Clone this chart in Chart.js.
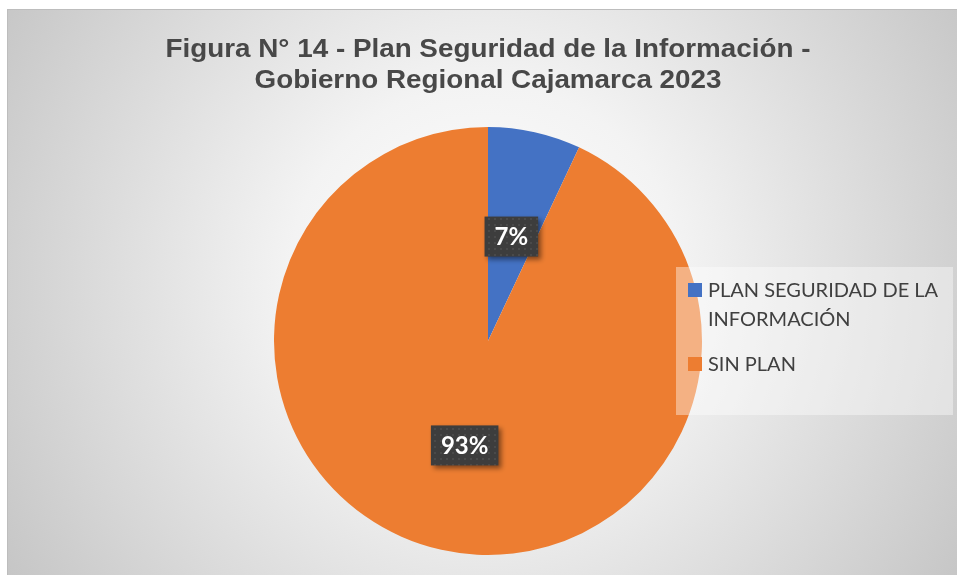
<!DOCTYPE html>
<html>
<head>
<meta charset="utf-8">
<script src="https://cdn.jsdelivr.net/npm/chart.js@4.4.0/dist/chart.umd.min.js"></script>
<style>
  body { margin: 0; background: #fff; }
  canvas { display: block; }
</style>
</head>
<body>
<canvas id="canvas" width="957" height="575"></canvas>
<script>
// datos
var categories = ['PLAN SEGURIDAD DE LA INFORMACIÓN', 'SIN PLAN'];
var legendLines = [['PLAN SEGURIDAD DE LA', 'INFORMACIÓN'], ['SIN PLAN']];
var percentages = [7, 93];
var sliceColors = ['#4472C4', '#ED7D31'];
var titleLines = ['Figura N° 14 - Plan Seguridad de la Información -', 'Gobierno Regional Cajamarca 2023'];

// fondo con degradado radial y marco
var background = {
  id: 'background',
  beforeDraw: function(chart){
    var ctx = chart.ctx;
    ctx.save();
    ctx.fillStyle = '#ffffff';
    ctx.fillRect(0, 0, chart.width, chart.height);
    var g = ctx.createRadialGradient(485, 280, 0, 485, 280, 560);
    g.addColorStop(0, '#ffffff');
    g.addColorStop(0.35, '#f3f3f3');
    g.addColorStop(1, '#c6c6c6');
    ctx.fillStyle = g;
    ctx.fillRect(7, 9, chart.width - 7, chart.height - 9);
    ctx.strokeStyle = '#bdbdbd';
    ctx.lineWidth = 1;
    ctx.strokeRect(7.5, 9.5, chart.width - 7, chart.height - 9);
    ctx.restore();
  }
};

// titulo: un poco ensanchado como en el original
var wideTitle = {
  id: 'wideTitle',
  afterDraw: function(chart){
    var ctx = chart.ctx;
    ctx.save();
    ctx.font = 'bold 26px "Liberation Sans"';
    ctx.fillStyle = '#484848';
    ctx.textAlign = 'center';
    ctx.textBaseline = 'alphabetic';
    var cx = 488;
    titleLines.forEach(function(t, i){
      ctx.save();
      ctx.translate(cx, 57 + i * 31);
      ctx.scale(1.07, 1);
      ctx.fillText(t, 0, 0);
      ctx.restore();
    });
    ctx.restore();
  }
};

// patron de puntos para las etiquetas
function dotPattern(ctx){
  var p = document.createElement('canvas');
  p.width = 6; p.height = 6;
  var pc = p.getContext('2d');
  pc.fillStyle = '#3d3d3d';
  pc.fillRect(0, 0, 6, 6);
  pc.fillStyle = '#4a4a4a';
  pc.fillRect(2, 2, 2, 2);
  return ctx.createPattern(p, 'repeat');
}

var dataLabels = {
  id: 'dataLabels',
  afterDatasetsDraw: function(chart){
    var ctx = chart.ctx;
    var meta = chart.getDatasetMeta(0);
    ctx.save();
    ctx.font = 'bold 24px Lato';
    meta.data.forEach(function(arc, i){
      var pos = arc.tooltipPosition();
      var txt = percentages[i] + '%';
      var w = ctx.measureText(txt).width + 20;
      var h = 40;
      var x = pos.x - w / 2, y = pos.y - h / 2;
      ctx.save();
      ctx.shadowColor = 'rgba(0,0,0,0.45)';
      ctx.shadowBlur = 5;
      ctx.shadowOffsetX = 3;
      ctx.shadowOffsetY = 3;
      ctx.fillStyle = dotPattern(ctx);
      ctx.fillRect(x, y, w, h);
      ctx.restore();
      ctx.fillStyle = '#ffffff';
      ctx.textAlign = 'center';
      ctx.textBaseline = 'middle';
      ctx.fillText(txt, pos.x, pos.y + 1);
    });
    ctx.restore();
  }
};

// leyenda dibujada a mano (texto en dos lineas)
var sideLegend = {
  id: 'sideLegend',
  afterDraw: function(chart){
    var ctx = chart.ctx;
    ctx.save();
    ctx.fillStyle = 'rgba(255,255,255,0.4)';
    ctx.fillRect(676, 267, 277, 148);
    ctx.font = '20px Lato';
    ctx.textBaseline = 'alphabetic';
    ctx.textAlign = 'left';
    var y = 297;
    legendLines.forEach(function(lines, i){
      ctx.fillStyle = sliceColors[i];
      ctx.fillRect(688, y - 14, 14, 14);
      ctx.fillStyle = '#404040';
      lines.forEach(function(l, j){
        ctx.fillText(l, 708, y + j * 29);
      });
      y += lines.length * 29 + 16;
    });
    ctx.restore();
  }
};

new Chart(document.getElementById('canvas'), {
  type: 'pie',
  data: {
    labels: categories,
    datasets: [{
      data: percentages,
      backgroundColor: sliceColors,
      borderWidth: 0
    }]
  },
  options: {
    responsive: false,
    animation: false,
    layout: { padding: { top: 127, left: 20, right: 1, bottom: 20 } },
    plugins: {
      legend: { display: false },
      tooltip: { enabled: false },
      title: { display: false }
    }
  },
  plugins: [background, wideTitle, dataLabels, sideLegend]
});
</script>
</body>
</html>
